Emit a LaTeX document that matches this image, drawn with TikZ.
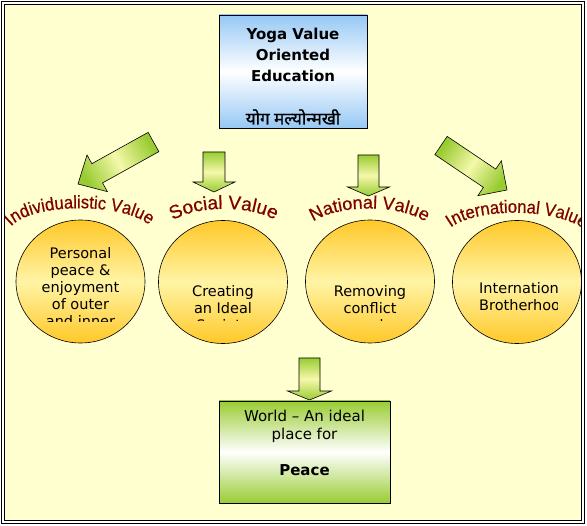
\documentclass[tikz,border=0pt]{standalone}
\usepackage{fontspec}
\setmainfont{DejaVu Sans}
\newfontfamily\arialfont[FakeBold=0.6]{Liberation Sans}
\newfontfamily\arialnarrow[FakeBold=0.6,FakeStretch=0.92]{Liberation Sans}
\newfontfamily\hindifont[Script=Devanagari,FakeBold=1.2]{Noto Sans}
\usetikzlibrary{calc,shapes.geometric,decorations.text}

\definecolor{paper}{RGB}{255,255,208}
\definecolor{skyblue}{RGB}{150,200,245}
\definecolor{leafgreen}{RGB}{153,204,51}
\definecolor{paleyellow}{RGB}{245,248,170}
\definecolor{sunorange}{RGB}{255,200,40}
\definecolor{sunpale}{RGB}{255,244,165}
\definecolor{valuered}{RGB}{128,0,0}

\newcommand{\bigvaluefont}{\arialfont\fontsize{19}{19}\selectfont}
\newcommand{\midvaluefont}{\arialfont\fontsize{18}{18}\selectfont}
\newcommand{\longvaluefont}{\arialnarrow\fontsize{18}{18}\selectfont}

\tikzset{
  arrowfill/.style={draw=black,line width=0.6pt,top color=leafgreen,bottom color=leafgreen,middle color=paleyellow},
  valuecircle/.style={ellipse,draw=black,line width=0.6pt,minimum width=129pt,minimum height=123pt,
    top color=sunorange,bottom color=sunorange,middle color=sunpale},
  circletext/.style={anchor=north,inner sep=0pt,align=center,font=\fontsize{14.5}{17}\selectfont},
  valuelabel/.style={decorate,decoration={text along path,text align=center,text color=valuered,text={#1}}},
}

% tail, tip, half shaft, half head, head length, shading angle
\newcommand{\blockarrow}[6]{%
  \coordinate (ab) at ($(#2)!#5!(#1)$);
  \shade[arrowfill,shading angle=#6] ($(#1)!#3!90:(#2)$) -- ($(ab)!#3!90:(#2)$) -- ($(ab)!#4!90:(#2)$)
    -- (#2) -- ($(ab)!#4!-90:(#2)$) -- ($(ab)!#3!-90:(#2)$) -- ($(#1)!#3!-90:(#2)$) -- cycle;
}

\begin{document}
\begin{tikzpicture}[x=1pt,y=-1pt]
\useasboundingbox (0,0) rectangle (587,526);
\fill[paper] (4.5,4.5) rectangle (581.5,520.5);

% arrows
\coordinate (t1) at (153.5,142); \coordinate (h1) at (78,184);
\coordinate (t2) at (214,152);   \coordinate (h2) at (214,192);
\coordinate (t3) at (368.5,155); \coordinate (h3) at (368.5,196);
\coordinate (t4) at (441,145.5); \coordinate (h4) at (507,190);
\coordinate (t5) at (309.5,358); \coordinate (h5) at (309.5,400);
\blockarrow{t1}{h1}{11pt}{21pt}{22pt}{-61}
\blockarrow{t2}{h2}{11pt}{21pt}{10pt}{0}
\blockarrow{t3}{h3}{10.5pt}{21pt}{9pt}{0}
\blockarrow{t4}{h4}{11pt}{21pt}{21pt}{56}
\blockarrow{t5}{h5}{10.5pt}{22pt}{9pt}{0}

% boxes
\node[draw=black,line width=0.6pt,minimum width=148pt,minimum height=113pt,
  top color=skyblue,bottom color=skyblue,middle color=white] (yoga) at (293,71.5) {};
\node[anchor=north,inner sep=0pt,align=center,font=\bfseries\fontsize{15}{21}\selectfont] (title) at (293,28) {Yoga Value\\Oriented\\Education};
\node[inner sep=0pt,font=\hindifont\fontsize{17}{17}\selectfont] (hindi) at (293,117) {योग मल्योन्मखी};

\node[draw=black,line width=0.6pt,minimum width=171pt,minimum height=102pt,
  top color=leafgreen,bottom color=leafgreen,middle color=white] (world) at (304.5,452) {};
\node[anchor=north,inner sep=0pt,align=center,font=\fontsize{15}{18}\selectfont] (worldtext) at (304.5,410) {World – An ideal\\place for\\[18pt]\textbf{Peace}};

% circles
\node[valuecircle] (indiv) at (80.5,281.5) {};
\node[valuecircle] (social) at (223,282) {};
\node[valuecircle] (nation) at (370,281.5) {};
\node[valuecircle] (inter) at (517,282) {};

\begin{scope}
\clip (16,230) rectangle (145,322);
\node[circletext] (indivtext) at (80.5,247) {Personal\\peace \&\\enjoyment\\of outer\\and inner};
\end{scope}
\begin{scope}
\clip (159,230) rectangle (287,321);
\node[circletext] (socialtext) at (223,285) {Creating\\an Ideal\\Society};
\end{scope}
\begin{scope}
\clip (306,230) rectangle (434,321);
\node[circletext] (nationtext) at (370,285) {Removing\\conflict\\and};
\end{scope}
\begin{scope}
\clip (478,230) rectangle (557,322);
\node[circletext,anchor=north west,align=left] (intertext) at (479,282) {International\\Brotherhood};
\end{scope}

% curved titles
\begin{scope}
\clip (4.5,4.5) rectangle (581.5,520.5);
\path[valuelabel={|\longvaluefont|Individualistic Value}] (8,231) .. controls (23,201) and (132,201) .. (153,229);
\path[valuelabel={|\bigvaluefont|Social Value}] (165,227) .. controls (186,203) and (260,203) .. (283,226);
\path[valuelabel={|\midvaluefont|National Value}] (306,228) .. controls (328,202) and (410,202) .. (433,228);
\path[valuelabel={|\longvaluefont|International Value}] (443,236) .. controls (460,205) and (567,205) .. (592,236);
\end{scope}

% frame
\draw[line width=1pt] (1.5,1.5) rectangle (584.5,523.5);
\draw[line width=1pt] (4.5,4.5) rectangle (581.5,520.5);
\end{tikzpicture}
\end{document}
